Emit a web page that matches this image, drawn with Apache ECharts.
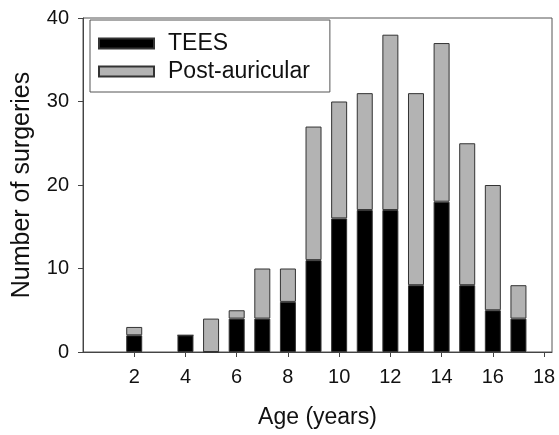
<!DOCTYPE html>
<html>
<head>
<meta charset="utf-8">
<script src="https://cdn.jsdelivr.net/npm/echarts@6/dist/echarts.min.js"></script>
<style>
    html, body { margin: 0; padding: 0; background: #fff; }
    #chart_div { width: 559px; height: 435px; }
</style>
</head>
<body>
<div id="chart_div"></div>
<script>
    // ages with at least one surgery
    const ages = [2, 4, 5, 6, 7, 8, 9, 10, 11, 12, 13, 14, 15, 16, 17];
    const tees = [2, 2, 0, 4, 4, 6, 11, 16, 17, 17, 8, 18, 8, 5, 4];
    const postAuricular = [1, 0, 4, 1, 6, 4, 16, 14, 14, 21, 23, 19, 17, 15, 4];
    const xTicks = [2, 4, 6, 8, 10, 12, 14, 16, 18];

    const font = 'Liberation Sans, Arial, sans-serif';
    const axisColor = '#444';

    const chart = echarts.init(document.getElementById('chart_div'));

    // count first so the stack runs on the count dimension, not on age
    const toPairs = (vals) => ages.map((a, i) => [vals[i], a]);

    chart.setOption({
        animation: false,
        textStyle: { fontFamily: font },
        grid: {
            left: 83, right: 7, top: 18, bottom: 83,
            show: true,
            borderColor: '#555',
            borderWidth: 1
        },
        legend: {
            orient: 'vertical',
            left: 90,
            top: 20,
            padding: [12, 20, 9, 8],
            itemWidth: 55,
            itemHeight: 10,
            itemGap: 5,
            borderColor: '#555',
            borderWidth: 1,
            icon: 'rect',
            data: ['TEES', 'Post-auricular'],
            textStyle: { fontSize: 23, color: '#111', fontFamily: font, padding: [0, 0, 0, 9] }
        },
        xAxis: {
            type: 'value',
            min: 0,
            max: 18.31,
            name: 'Age (years)',
            nameLocation: 'middle',
            nameGap: 54,
            nameTextStyle: { fontSize: 23, color: '#111', fontFamily: font },
            axisLine: { lineStyle: { color: axisColor } },
            axisTick: { customValues: xTicks, length: 5, lineStyle: { color: axisColor } },
            axisLabel: { customValues: xTicks, fontSize: 20, color: '#111', margin: 15, fontFamily: font },
            splitLine: { show: false }
        },
        yAxis: {
            type: 'value',
            min: 0,
            max: 40,
            interval: 10,
            name: 'Number of surgeries',
            nameLocation: 'middle',
            nameGap: 48,
            nameTextStyle: { fontSize: 25, color: '#111', fontFamily: font },
            axisLine: { show: true, lineStyle: { color: axisColor } },
            axisTick: { show: true, length: 5, lineStyle: { color: axisColor } },
            axisLabel: { fontSize: 20, color: '#111', margin: 14, fontFamily: font },
            splitLine: { show: false }
        },
        series: [{
            name: 'TEES',
            type: 'bar',
            stack: 'total',
            barWidth: 16,
            encode: { x: 1, y: 0 },
            data: toPairs(tees),
            itemStyle: { color: '#000', borderColor: '#333', borderWidth: 1 }
        }, {
            name: 'Post-auricular',
            type: 'bar',
            stack: 'total',
            barWidth: 16,
            encode: { x: 1, y: 0 },
            data: toPairs(postAuricular),
            itemStyle: { color: '#b3b3b3', borderColor: '#333', borderWidth: 1 }
        }]
    });
</script>
</body>
</html>
